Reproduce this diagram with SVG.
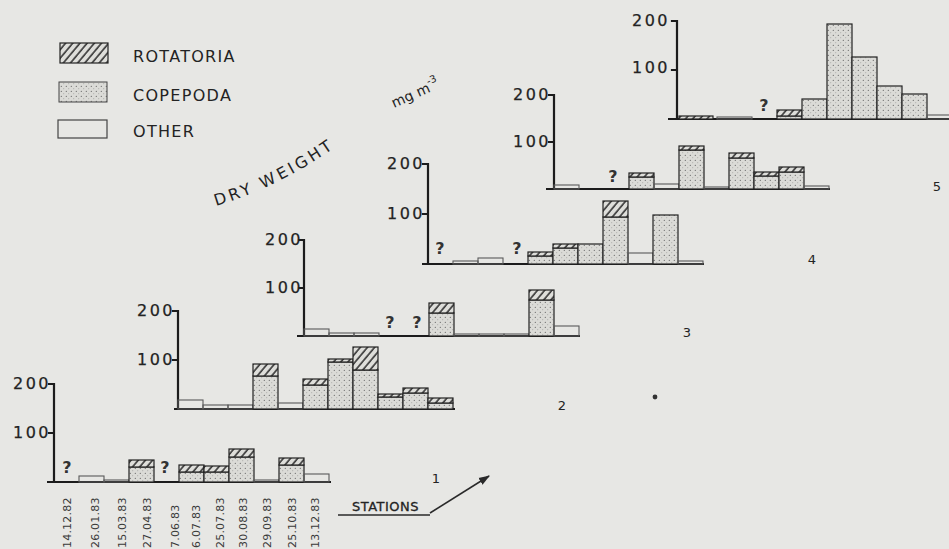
<svg xmlns="http://www.w3.org/2000/svg" width="949" height="549" viewBox="0 0 949 549">
<defs>
  <pattern id="hatch" width="5.5" height="5.5" patternUnits="userSpaceOnUse" patternTransform="rotate(40)">
    <rect width="5.5" height="5.5" fill="#dededa"/>
    <line x1="1" y1="0" x2="1" y2="5.5" stroke="#2a2a2a" stroke-width="1.5"/>
  </pattern>
  <pattern id="dots" width="5" height="5" patternUnits="userSpaceOnUse">
    <rect width="5" height="5" fill="#dbdbd7"/>
    <circle cx="1.3" cy="1.3" r="0.6" fill="#606060"/>
    <circle cx="3.8" cy="3.8" r="0.45" fill="#808080"/>
  </pattern>
  <marker id="arrow" viewBox="0 0 10 10" refX="9" refY="5" markerWidth="7" markerHeight="7" orient="auto">
    <path d="M0,1.5 L10,5 L0,8.5 Z" fill="#2a2a2a"/>
  </marker>
</defs>
<style>
  text { font-family: "DejaVu Sans", "Liberation Sans", sans-serif; fill: #232323; }
  .num { font-size: 16px; letter-spacing: 2.5px; text-anchor: end; stroke: #232323; stroke-width: 0.25; }
  .q { font-size: 16px; font-weight: bold; text-anchor: middle; fill: #333; }
  .leg { font-size: 16px; letter-spacing: 1.3px; }
  .date { font-size: 11px; fill: #3a3a3a; letter-spacing: 0.2px; }
  .lab { font-size: 13px; text-anchor: middle; }
  .axis { stroke: #1c1c1c; stroke-width: 2.2; fill: none; stroke-linecap: square; }
  .base { stroke: #1c1c1c; stroke-width: 2.2; fill: none; }
  .cop { fill: url(#dots); stroke: #222; stroke-width: 1.2; }
  .rot { fill: url(#hatch); stroke: #222; stroke-width: 1.2; }
  .oth { fill: none; stroke: #5a5a5a; stroke-width: 1.1; }
</style>
<rect width="949" height="549" fill="#e7e7e4"/>

<!-- legend -->
<g id="legend">
  <rect x="60" y="43" width="48" height="20" class="rot"/>
  <rect x="59" y="82" width="48" height="20" fill="url(#dots)" stroke="#444" stroke-width="1"/>
  <rect x="58" y="120" width="49" height="18" fill="none" stroke="#444" stroke-width="1.2"/>
  <text class="leg" x="133" y="62">ROTATORIA</text>
  <text class="leg" x="133" y="101">COPEPODA</text>
  <text class="leg" x="133" y="137">OTHER</text>
</g>

<!-- axis title -->
<g id="title">
  <path id="arcpath" d="M 216,206 Q 287,185 356,132" fill="none"/>
  <text font-size="16" letter-spacing="3.2"><textPath href="#arcpath">DRY  WEIGHT</textPath></text>
  <text font-size="14" transform="translate(394,108) rotate(-24)">mg m<tspan dy="-7" font-size="10">-3</tspan></text>
</g>

<!-- station 1 -->
<g id="station-1" transform="translate(54,482)">
  <path class="axis" d="M0,0 V-98 M-5,-98 H0 M-5,-49 H0"/>
  <line class="base" x1="-7" y1="0" x2="277" y2="0"/>
  <text class="q" x="13" y="-9">?</text>
  <rect class="oth" x="25" y="-6" width="25" height="6"/>
  <rect class="oth" x="50" y="-2" width="25" height="2"/>
  <rect class="cop" x="75" y="-15" width="25" height="15"/><rect class="rot" x="75" y="-22" width="25" height="7"/>
  <text class="q" x="111" y="-9">?</text>
  <rect class="cop" x="125" y="-10" width="25" height="10"/><rect class="rot" x="125" y="-17" width="25" height="7"/>
  <rect class="cop" x="150" y="-10" width="25" height="10"/><rect class="rot" x="150" y="-16" width="25" height="6"/>
  <rect class="cop" x="175" y="-25" width="25" height="25"/><rect class="rot" x="175" y="-33" width="25" height="8"/>
  <rect class="oth" x="200" y="-2" width="25" height="2"/>
  <rect class="cop" x="225" y="-17" width="25" height="17"/><rect class="rot" x="225" y="-24" width="25" height="7"/>
  <rect class="oth" x="250" y="-8" width="25" height="8"/>
</g>
<g id="axis-labels-1">
  <text class="num" x="51" y="389">200</text>
  <text class="num" x="51" y="438">100</text>
</g>
<g id="dates">
  <text class="date" transform="translate(71,548) rotate(-90)">14.12.82</text>
  <text class="date" transform="translate(99,548) rotate(-90)">26.01.83</text>
  <text class="date" transform="translate(126,548) rotate(-90)">15.03.83</text>
  <text class="date" transform="translate(151,548) rotate(-90)">27.04.83</text>
  <text class="date" transform="translate(179,548) rotate(-90)">7.06.83</text>
  <text class="date" transform="translate(200,548) rotate(-90)">6.07.83</text>
  <text class="date" transform="translate(224,548) rotate(-90)">25.07.83</text>
  <text class="date" transform="translate(247,548) rotate(-90)">30.08.83</text>
  <text class="date" transform="translate(271,548) rotate(-90)">29.09.83</text>
  <text class="date" transform="translate(296,548) rotate(-90)">25.10.83</text>
  <text class="date" transform="translate(319,548) rotate(-90)">13.12.83</text>
</g>

<!-- station 2 -->
<g id="station-2" transform="translate(178,409)">
  <path class="axis" d="M0,0 V-98 M-5,-98 H0 M-5,-49 H0"/>
  <line class="base" x1="-4" y1="0" x2="277" y2="0"/>
  <rect class="oth" x="0" y="-9" width="25" height="9"/>
  <rect class="oth" x="25" y="-4" width="25" height="4"/>
  <rect class="oth" x="50" y="-4" width="25" height="4"/>
  <rect class="cop" x="75" y="-33" width="25" height="33"/><rect class="rot" x="75" y="-45" width="25" height="12"/>
  <rect class="oth" x="100" y="-6" width="25" height="6"/>
  <rect class="cop" x="125" y="-24" width="25" height="24"/><rect class="rot" x="125" y="-30" width="25" height="6"/>
  <rect class="cop" x="150" y="-47" width="25" height="47"/><rect class="rot" x="150" y="-50" width="25" height="3"/>
  <rect class="cop" x="175" y="-39" width="25" height="39"/><rect class="rot" x="175" y="-62" width="25" height="23"/>
  <rect class="cop" x="200" y="-12" width="25" height="12"/><rect class="rot" x="200" y="-15" width="25" height="3"/>
  <rect class="cop" x="225" y="-16" width="25" height="16"/><rect class="rot" x="225" y="-21" width="25" height="5"/>
  <rect class="cop" x="250" y="-6" width="25" height="6"/><rect class="rot" x="250" y="-11" width="25" height="5"/>
  <text class="num" x="-3" y="-93">200</text>
  <text class="num" x="-3" y="-44">100</text>
</g>

<!-- station 3 -->
<g id="station-3" transform="translate(304,336)">
  <path class="axis" d="M0,0 V-96 M-5,-96 H0 M-5,-48 H0"/>
  <line class="base" x1="-7" y1="0" x2="276" y2="0"/>
  <rect class="oth" x="0" y="-7" width="25" height="7"/>
  <rect class="oth" x="25" y="-3" width="25" height="3"/>
  <rect class="oth" x="50" y="-3" width="25" height="3"/>
  <text class="q" x="86" y="-8">?</text>
  <text class="q" x="113" y="-8">?</text>
  <rect class="cop" x="125" y="-23" width="25" height="23"/><rect class="rot" x="125" y="-33" width="25" height="10"/>
  <rect class="oth" x="150" y="-2" width="25" height="2"/>
  <rect class="oth" x="175" y="-2" width="25" height="2"/>
  <rect class="oth" x="200" y="-2" width="25" height="2"/>
  <rect class="cop" x="225" y="-36" width="25" height="36"/><rect class="rot" x="225" y="-46" width="25" height="10"/>
  <rect class="oth" x="250" y="-10" width="25" height="10"/>
  <text class="num" x="-1" y="-91">200</text>
  <text class="num" x="-1" y="-43">100</text>
</g>

<!-- station 4 -->
<g id="station-4" transform="translate(428,264)">
  <path class="axis" d="M0,0 V-100 M-5,-100 H0 M-5,-50 H0"/>
  <line class="base" x1="-6" y1="0" x2="276" y2="0"/>
  <text class="q" x="12" y="-10">?</text>
  <rect class="oth" x="25" y="-3" width="25" height="3"/>
  <rect class="oth" x="50" y="-6" width="25" height="6"/>
  <text class="q" x="89" y="-10">?</text>
  <rect class="cop" x="100" y="-8" width="25" height="8"/><rect class="rot" x="100" y="-12" width="25" height="4"/>
  <rect class="cop" x="125" y="-16" width="25" height="16"/><rect class="rot" x="125" y="-20" width="25" height="4"/>
  <rect class="cop" x="150" y="-20" width="25" height="20"/>
  <rect class="cop" x="175" y="-47" width="25" height="47"/><rect class="rot" x="175" y="-63" width="25" height="16"/>
  <rect class="oth" x="200" y="-11" width="25" height="11"/>
  <rect class="cop" x="225" y="-49" width="25" height="49"/>
  <rect class="oth" x="250" y="-3" width="25" height="3" fill="#888"/>
  <text class="num" x="-3" y="-95">200</text>
  <text class="num" x="-3" y="-45">100</text>
</g>

<!-- station 5 -->
<g id="station-5" transform="translate(554,189)">
  <path class="axis" d="M0,0 V-94 M-5,-94 H0 M-5,-47 H0"/>
  <line class="base" x1="-8" y1="0" x2="276" y2="0"/>
  <rect class="oth" x="0" y="-4" width="25" height="4"/>
  <text class="q" x="59" y="-7">?</text>
  <rect class="cop" x="75" y="-12" width="25" height="12"/><rect class="rot" x="75" y="-16" width="25" height="4"/>
  <rect class="oth" x="100" y="-5" width="25" height="5"/>
  <rect class="cop" x="125" y="-39" width="25" height="39"/><rect class="rot" x="125" y="-43" width="25" height="4"/>
  <rect class="oth" x="150" y="-2" width="25" height="2"/>
  <rect class="cop" x="175" y="-31" width="25" height="31"/><rect class="rot" x="175" y="-36" width="25" height="5"/>
  <rect class="cop" x="200" y="-13" width="25" height="13"/><rect class="rot" x="200" y="-17" width="25" height="4"/>
  <rect class="cop" x="225" y="-17" width="25" height="17"/><rect class="rot" x="225" y="-22" width="25" height="5"/>
  <rect class="oth" x="250" y="-3" width="25" height="3"/>
  <text class="num" x="-3" y="-89">200</text>
  <text class="num" x="-3" y="-42">100</text>
</g>

<!-- station 6 -->
<g id="station-6" transform="translate(677,119)">
  <path class="axis" d="M0,0 V-98 M-5,-98 H0 M-5,-49 H0"/>
  <line class="base" x1="-9" y1="0" x2="275" y2="0"/>
  <rect class="rot" x="2" y="-3" width="34" height="3"/>
  <rect class="oth" x="40" y="-2" width="35" height="2" fill="#555"/>
  <text class="q" x="87" y="-8">?</text>
  <rect class="cop" x="100" y="-3" width="25" height="3"/><rect class="rot" x="100" y="-9" width="25" height="6"/>
  <rect class="cop" x="125" y="-20" width="25" height="20"/>
  <rect class="cop" x="150" y="-95" width="25" height="95"/>
  <rect class="cop" x="175" y="-62" width="25" height="62"/>
  <rect class="cop" x="200" y="-33" width="25" height="33"/>
  <rect class="cop" x="225" y="-25" width="25" height="25"/>
  <rect class="oth" x="250" y="-4" width="25" height="4"/>
  <text class="num" x="-7" y="-93">200</text>
  <text class="num" x="-7" y="-46">100</text>
</g>

<!-- station numbers -->
<g id="station-numbers">
  <text class="lab" x="436" y="483">1</text>
  <text class="lab" x="562" y="410">2</text>
  <text class="lab" x="687" y="337">3</text>
  <text class="lab" x="812" y="264">4</text>
  <text class="lab" x="937" y="191">5</text>
</g>

<!-- stations label and arrow -->
<g id="stations-label">
  <text x="352" y="511" font-size="13" letter-spacing="0.5" stroke="#232323" stroke-width="0.3">STATIONS</text>
</g>
<g id="connectors">
  <line x1="338" y1="515" x2="430" y2="515" stroke="#2a2a2a" stroke-width="1.6"/>
  <line x1="430" y1="513" x2="489" y2="476" stroke="#2a2a2a" stroke-width="1.6" marker-end="url(#arrow)"/>
</g>
<circle cx="655" cy="397" r="2.4" fill="#333"/>
</svg>
